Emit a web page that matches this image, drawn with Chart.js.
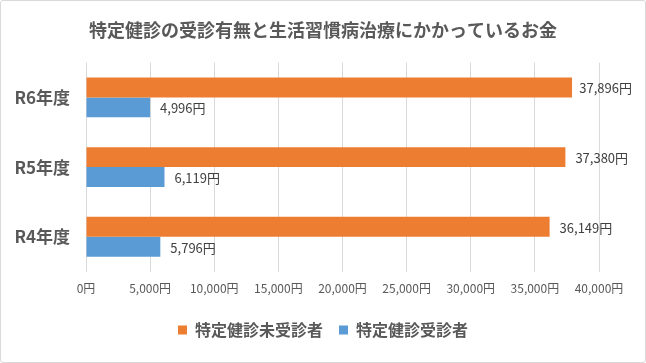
<!DOCTYPE html>
<html lang="ja">
<head>
<meta charset="utf-8">
<script src="https://cdn.jsdelivr.net/npm/chart.js@4"></script>
<style>
  html, body { margin: 0; padding: 0; background: #fff; }
  #wrap {
    position: relative;
    width: 646px; height: 363px;
    box-sizing: border-box;
    border: 1px solid #d9d9d9;
    border-radius: 3px;
  }
  #chart { display: block; }
</style>
</head>
<body>
<div id="wrap"><canvas id="chart" width="644" height="361"></canvas></div>
<script>
const categories = ["R6年度", "R5年度", "R4年度"];
const seriesNames = ["特定健診未受診者", "特定健診受診者"];
const unscreened = [37896, 37380, 36149]; // 未受診者
const screened = [4996, 6119, 5796];      // 受診者
const xTicks = [0, 5000, 10000, 15000, 20000, 25000, 30000, 35000, 40000];

const FONT = "'Noto Sans CJK JP', 'Noto Sans', sans-serif";
const yen = (v) => v.toLocaleString("en-US") + "円";

// 棒の右に金額を表示 (右端からはみ出す場合は詰める)
const valueLabels = {
    id: "valueLabels",
    afterDatasetsDraw(chart) {
        const ctx = chart.ctx;
        const maxRight = chart.width - 13;
        ctx.save();
        ctx.font = "13px " + FONT;
        ctx.fillStyle = "#404040";
        ctx.textAlign = "left";
        ctx.textBaseline = "middle";
        chart.data.datasets.forEach((ds, i) => {
            chart.getDatasetMeta(i).data.forEach((bar, j) => {
                const txt = yen(ds.data[j]);
                const w = ctx.measureText(txt).width;
                const x = Math.min(bar.x + 10, maxRight - w);
                ctx.fillText(txt, x, bar.y + 1);
            });
        });
        ctx.restore();
    }
};

new Chart(document.getElementById("chart"), {
    type: "bar",
    data: {
        labels: categories,
        datasets: [{
            label: seriesNames[0],
            data: unscreened,
            backgroundColor: "#ED7D31",
            categoryPercentage: 0.572,
            barPercentage: 1.0
        }, {
            label: seriesNames[1],
            data: screened,
            backgroundColor: "#5B9BD5",
            categoryPercentage: 0.572,
            barPercentage: 1.0
        }]
    },
    options: {
        indexAxis: "y",
        responsive: false,
        animation: false,
        layout: { padding: { top: 18, left: 10, right: 10, bottom: 14 } },
        scales: {
            x: {
                min: 0,
                max: 40000,
                afterBuildTicks: (scale) => { scale.ticks = xTicks.map(v => ({ value: v })); },
                // 右側の余白 (タイトル・凡例は全幅で中央揃えのまま)
                afterFit: (scale) => { scale.paddingRight = 46; },
                grid: { color: "#d9d9d9", drawTicks: false },
                border: { display: false },
                ticks: {
                    padding: 10,
                    color: "#595959",
                    font: { family: FONT, size: 12 },
                    callback: (v) => yen(v)
                }
            },
            y: {
                grid: { display: false },
                border: { display: false },
                afterFit: (scale) => { scale.width = 75; },
                ticks: {
                    padding: 8,
                    color: "#595959",
                    font: { family: FONT, size: 17, weight: "bold" }
                }
            }
        },
        plugins: {
            title: {
                display: true,
                text: "特定健診の受診有無と生活習慣病治療にかかっているお金",
                color: "#595959",
                font: { family: FONT, size: 18, weight: "bold" },
                padding: { top: 0, bottom: 22 }
            },
            legend: {
                position: "bottom",
                labels: {
                    color: "#595959",
                    font: { family: FONT, size: 16, weight: "bold" },
                    boxWidth: 9,
                    boxHeight: 9,
                    padding: 16
                }
            },
            tooltip: { enabled: false }
        }
    },
    plugins: [valueLabels]
});
</script>
</body>
</html>
